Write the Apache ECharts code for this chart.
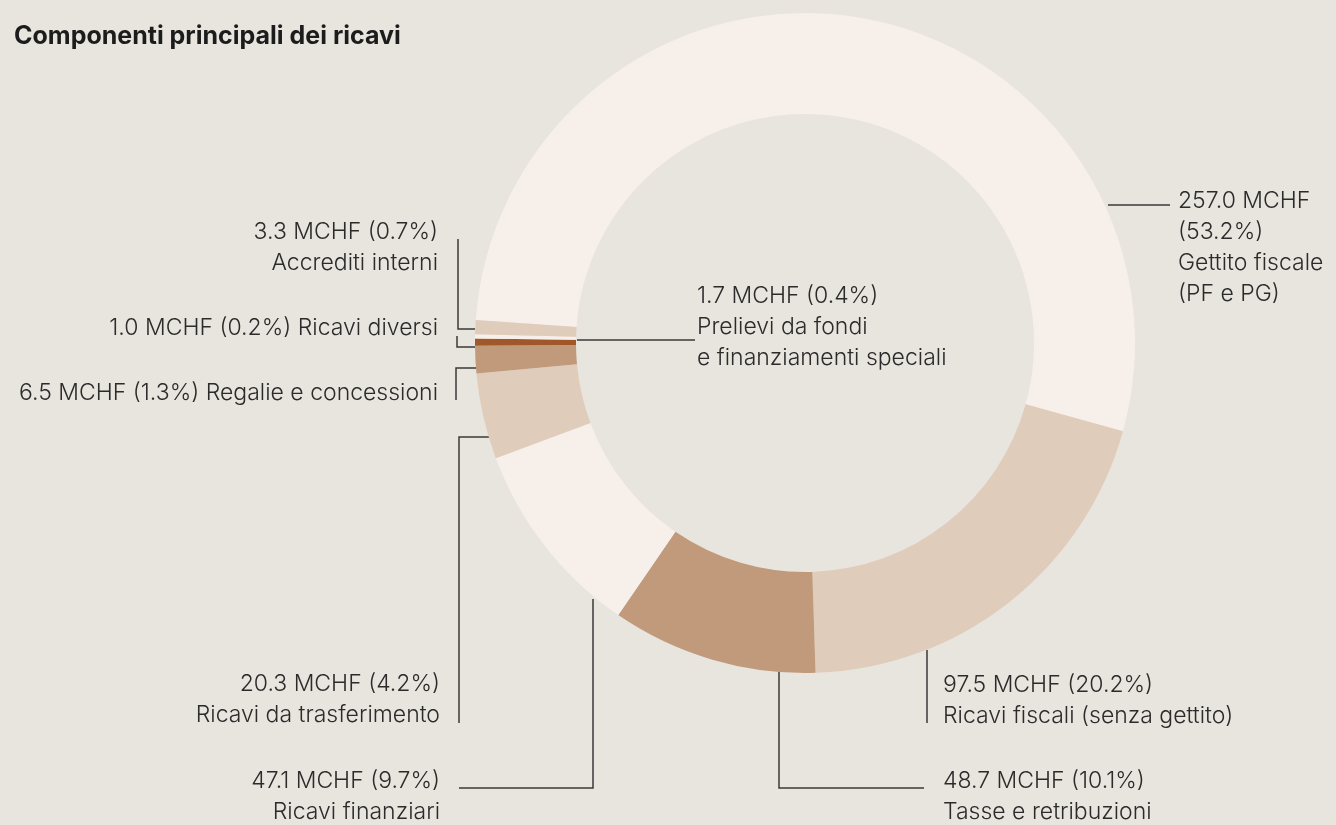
<!DOCTYPE html>
<html>
<head>
<meta charset="utf-8">
<script src="https://cdn.jsdelivr.net/npm/echarts@6/dist/echarts.min.js"></script>
<style>
  html, body { margin: 0; padding: 0; background: #e8e4de; }
  #chart { width: 1336px; height: 825px; }
</style>
</head>
<body>
<div id="chart"></div>
<script>
  // voci dei ricavi, in ordine orario a partire dal gettito fiscale
  var names = [
    'Gettito fiscale\n(PF e PG)',
    'Ricavi fiscali (senza gettito)',
    'Tasse e retribuzioni',
    'Ricavi finanziari',
    'Ricavi da trasferimento',
    'Regalie e concessioni',
    'Prelievi da fondi\ne finanziamenti speciali',
    'Ricavi diversi',
    'Accrediti interni'
  ];
  var values = [257.0, 97.5, 48.7, 47.1, 20.3, 6.5, 1.7, 1.0, 3.3];   // MCHF
  var shares = [53.2, 20.2, 10.1, 9.7, 4.2, 1.3, 0.4, 0.2, 0.7];      // %
  var colors = ['#f6efea', '#e0ccbb', '#c19a7b', '#f6efea', '#e0ccbb', '#c19a7b', '#a0582a', '#f6efea', '#e0ccbb'];

  // posizione etichette e linee guida (pixel)
  var labelPos = [
    {x: 1178, y: 248, align: 'left',  fmt: 'stack', pts: [[1108, 205], [1170, 205]]},
    {x: 943,  y: 701, align: 'left',  fmt: 'two',   pts: [[927, 650], [927, 723]]},
    {x: 943,  y: 797, align: 'left',  fmt: 'two',   pts: [[779, 672], [779, 788], [924, 788]]},
    {x: 440,  y: 797, align: 'right', fmt: 'two',   pts: [[593, 599], [593, 788], [459, 788]]},
    {x: 440,  y: 700, align: 'right', fmt: 'two',   pts: [[497, 437], [459, 437], [459, 723]]},
    {x: 438,  y: 393, align: 'right', fmt: 'one',   pts: [[476, 368], [456, 368], [456, 400]]},
    {x: 697,  y: 327, align: 'left',  fmt: 'two',   pts: [[577, 340], [695, 340]]},
    {x: 438,  y: 328, align: 'right', fmt: 'one',   pts: [[475, 347], [457, 347], [457, 336]]},
    {x: 438,  y: 248, align: 'right', fmt: 'two',   pts: [[475, 329], [458, 329], [458, 239]]}
  ];

  var myChart = echarts.init(document.getElementById('chart'));

  var seriesData = names.map(function (n, i) {
    return {name: n, value: values[i], itemStyle: {color: colors[i]}};
  });

  var option = {
    backgroundColor: '#e8e4de',
    animation: false,
    title: {
      text: 'Componenti principali dei ricavi',
      left: 14,
      top: 24,
      padding: 0,
      textStyle: {
        fontFamily: 'Inter',
        fontSize: 25,
        fontWeight: 'bold',
        color: '#1c1c1c'
      }
    },
    series: [{
      type: 'pie',
      center: [805, 343],
      radius: [229, 330],
      startAngle: 176,
      clockwise: true,
      avoidLabelOverlap: false,
      silent: true,
      itemStyle: {borderWidth: 0},
      label: {
        show: true,
        position: 'outside',
        fontFamily: 'Inter',
        fontWeight: 300,
        fontSize: 23,
        lineHeight: 31,
        color: '#2b2b2b',
        formatter: function (p) {
          var i = p.dataIndex;
          var v = values[i].toFixed(1) + ' MCHF';
          var s = '(' + shares[i].toFixed(1) + '%)';
          var f = labelPos[i].fmt;
          if (f === 'stack') return v + '\n' + s + '\n' + names[i];
          if (f === 'one') return v + ' ' + s + ' ' + names[i];
          return v + ' ' + s + '\n' + names[i];
        }
      },
      labelLine: {
        show: true,
        lineStyle: {color: '#3a3a3a', width: 1.5}
      },
      labelLayout: function (params) {
        var L = labelPos[params.dataIndex];
        return {
          x: L.x,
          y: L.y,
          align: L.align,
          verticalAlign: 'middle',
          labelLinePoints: L.pts
        };
      },
      data: seriesData
    }]
  };

  myChart.setOption(option);
</script>
</body>
</html>
